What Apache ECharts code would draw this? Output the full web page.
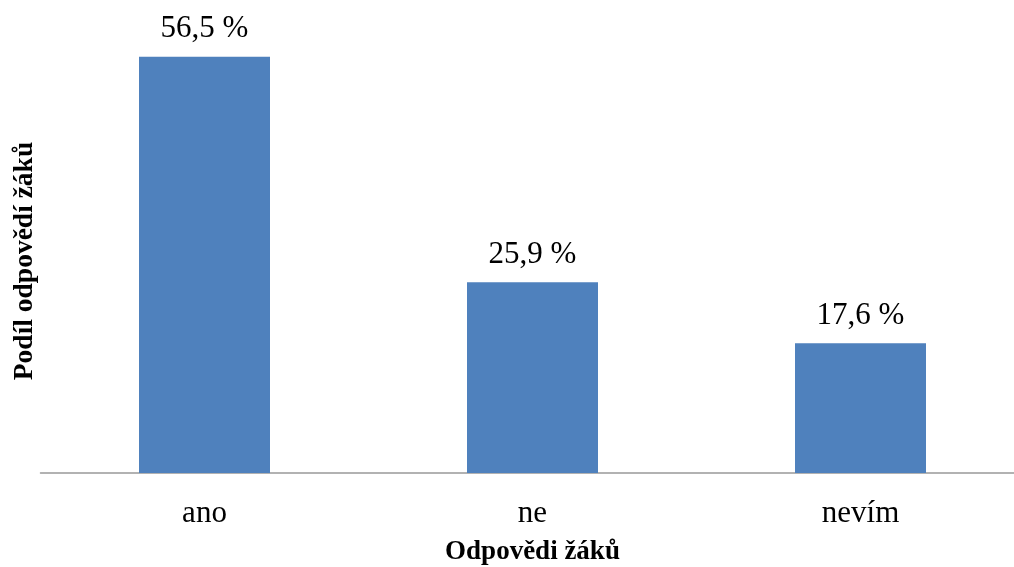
<!DOCTYPE html>
<html>
<head>
<meta charset="utf-8">
<script src="https://cdn.jsdelivr.net/npm/echarts@6/dist/echarts.min.js"></script>
<style>
  html, body { margin: 0; padding: 0; background: #fff; }
  #chart { width: 1014px; height: 567px; }
</style>
</head>
<body>
<div id="chart"></div>
<script>
// Survey answers and their share of pupils (%)
const categories = ['ano', 'ne', 'nevím'];
const shares = [56.5, 25.9, 17.6];

const serif = '"Liberation Serif", "DejaVu Serif", serif';

const chart = echarts.init(document.getElementById('chart'), null, { renderer: 'canvas' });

chart.setOption({
  animation: false,
  backgroundColor: '#ffffff',
  grid: { left: 40.5, right: -10.5, top: 31, bottom: 94, outerBoundsMode: 'none', containLabel: false },
  xAxis: {
    type: 'category',
    data: categories,
    name: 'Odpovědi žáků',
    nameLocation: 'middle',
    nameGap: 66,
    nameTextStyle: { fontFamily: serif, fontWeight: 'bold', fontSize: 27, color: '#000' },
    axisLine: { lineStyle: { color: '#999999', width: 1.5 } },
    axisTick: { show: false },
    axisLabel: { fontFamily: serif, fontSize: 31, color: '#000', margin: 25 }
  },
  yAxis: {
    type: 'value',
    min: 0,
    max: 60,
    name: 'Podíl odpovědí žáků',
    nameLocation: 'middle',
    nameGap: 2,
    nameRotate: 90,
    nameTextStyle: { fontFamily: serif, fontWeight: 'bold', fontSize: 27.5, color: '#000', padding: [0, 18, 0, 0] },
    axisLine: { show: false },
    axisTick: { show: false },
    axisLabel: { show: false },
    splitLine: { show: false }
  },
  series: [{
    type: 'bar',
    data: shares,
    barWidth: 131,
    itemStyle: { color: '#4F81BD' },
    label: {
      show: true,
      position: 'top',
      distance: 12,
      fontFamily: serif,
      fontSize: 31,
      color: '#000',
      formatter: p => String(p.value).replace('.', ',') + ' %'
    }
  }]
});
</script>
</body>
</html>
